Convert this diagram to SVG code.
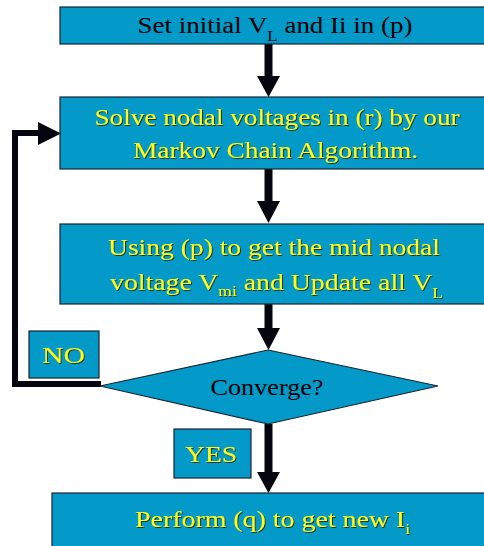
<svg xmlns="http://www.w3.org/2000/svg" width="484" height="546" viewBox="0 0 484 546">
<defs>
<filter id="sh" x="-5%" y="-20%" width="110%" height="140%">
<feDropShadow dx="1" dy="1" stdDeviation="0.3" flood-color="#2a2a10" flood-opacity="0.9"/>
</filter>
<marker id="ah" markerUnits="userSpaceOnUse" markerWidth="24" markerHeight="24" viewBox="0 0 24 24" refX="22" refY="12" orient="auto">
<path d="M0,0 L22,12 L0,24 Z" fill="#05050f"/>
</marker>
</defs>
<style>
.box{fill:#0399c9;stroke:#1a2433;stroke-width:1.2}
.t{font-family:"Liberation Serif","Times New Roman",serif;font-size:24px;text-anchor:middle}
.y{fill:#ffff1a;filter:url(#sh)}
.k{fill:#000}
.sub{font-size:15px}
.con{fill:none;stroke:#05050f;stroke-linecap:butt;stroke-linejoin:miter}
</style>
<rect width="484" height="546" fill="#fff"/>
<g id="connectors">
<path class="con" d="M268.5,44 V76" stroke-width="8"/>
<path d="M257,76 L280,76 L268.5,97 Z" fill="#05050f"/>
<path class="con" d="M268.5,169 V201" stroke-width="8"/>
<path d="M257,201 L280,201 L268.5,223 Z" fill="#05050f"/>
<path class="con" d="M268.5,304 V328" stroke-width="8"/>
<path d="M257,328 L280,328 L268.5,350 Z" fill="#05050f"/>
<path class="con" d="M268.5,424 V472" stroke-width="8"/>
<path d="M257,472 L280,472 L268.5,493 Z" fill="#05050f"/>
<path class="con" d="M101,384 H15 V133 H40" stroke-width="6"/>
<path d="M38,122 L38,145 L61,133.5 Z" fill="#05050f"/>
</g>
<g id="n1">
<rect class="box" x="60" y="7" width="430" height="37"/>
<text class="t k" x="275" y="33" textLength="275" lengthAdjust="spacingAndGlyphs">Set initial V<tspan class="sub" dy="8">L</tspan><tspan dy="-8"> and Ii in (p)</tspan></text>
</g>
<g id="n2">
<rect class="box" x="60" y="97" width="430" height="72"/>
<text class="t y" x="277" y="125" textLength="365" lengthAdjust="spacingAndGlyphs">Solve nodal voltages in (r) by our</text>
<text class="t y" x="275.5" y="158" textLength="285" lengthAdjust="spacingAndGlyphs">Markov Chain Algorithm.</text>
</g>
<g id="n3">
<rect class="box" x="60" y="224" width="430" height="80"/>
<text class="t y" x="274" y="255" textLength="332" lengthAdjust="spacingAndGlyphs">Using (p) to get the mid nodal</text>
<text class="t y" x="276.5" y="290" textLength="333" lengthAdjust="spacingAndGlyphs">voltage V<tspan class="sub" dy="6">mi</tspan><tspan dy="-6"> and Update all V</tspan><tspan class="sub" dy="8">L</tspan></text>
</g>
<g id="n4">
<polygon class="box" points="268,350 438,386 268,424 100,386"/>
<text class="t k" x="267" y="395" textLength="113" lengthAdjust="spacingAndGlyphs">Converge?</text>
</g>
<g id="no">
<rect class="box" x="29" y="331" width="70" height="47"/>
<text class="t y" x="63.5" y="363" textLength="43" lengthAdjust="spacingAndGlyphs">NO</text>
</g>
<g id="yes">
<rect class="box" x="174" y="429" width="77" height="49"/>
<text class="t y" x="211" y="462" textLength="52" lengthAdjust="spacingAndGlyphs">YES</text>
</g>
<g id="n5">
<rect class="box" x="52" y="493" width="440" height="60"/>
<text class="t y" x="272.5" y="527" textLength="275" lengthAdjust="spacingAndGlyphs">Perform (q) to get new I<tspan class="sub" dy="7">i</tspan></text>
</g>
</svg>
